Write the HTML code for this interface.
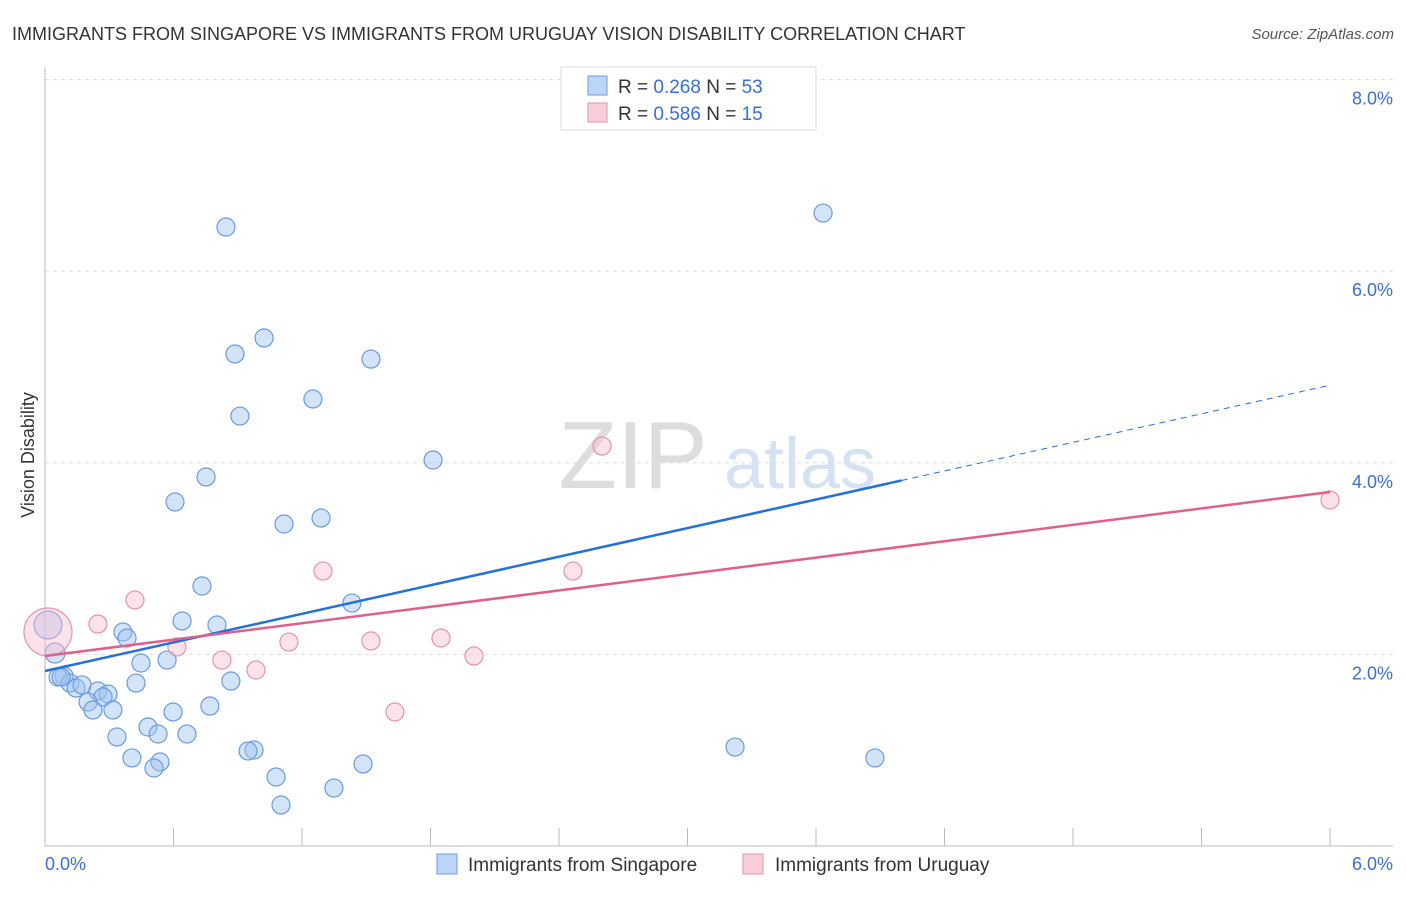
<!DOCTYPE html>
<html><head><meta charset="utf-8"><style>
body{margin:0;background:#fff;font-family:"Liberation Sans",sans-serif}
svg text{font-family:"Liberation Sans",sans-serif}
</style></head><body>
<svg id="c" width="1406" height="892" viewBox="0 0 1406 892">
<text x="12" y="40" font-size="18" fill="#333">IMMIGRANTS FROM SINGAPORE VS IMMIGRANTS FROM URUGUAY VISION DISABILITY CORRELATION CHART</text>
<text x="1394" y="39" font-size="15" fill="#555" font-style="italic" text-anchor="end">Source: ZipAtlas.com</text>
<text x="633" y="488" font-size="96" fill="#ddd" font-family="Liberation Serif" text-anchor="middle">ZIP</text>
<text x="800" y="488" font-size="72" fill="#d5e2f3" text-anchor="middle">atlas</text>
<g id="grid"></g><g id="axes"></g><g id="marks"></g>
<text transform="translate(34,455) rotate(-90)" font-size="18" fill="#333" text-anchor="middle">Vision Disability</text>
<text x="45" y="870" font-size="18" fill="#3b6fd4">0.0%</text>
<text x="1393" y="870" font-size="18" fill="#3b6fd4" text-anchor="end">6.0%</text>
<g>
<rect x="561" y="67" width="255" height="63" fill="#fff" stroke="#ddd"/>
<rect x="588" y="76" width="19" height="19" fill="#bcd4f5" stroke="#6a9be0"/>
<text x="618" y="93" font-size="19" fill="#333">R = <tspan fill="#3b6fd4">0.268</tspan>   N = <tspan fill="#3b6fd4">53</tspan></text>
<rect x="588" y="103" width="19" height="19" fill="#f9cdd9" stroke="#e693ab"/>
<text x="618" y="120" font-size="19" fill="#333">R = <tspan fill="#3b6fd4">0.586</tspan>   N = <tspan fill="#3b6fd4"> 15</tspan></text>
</g>
<g>
<rect x="437" y="854" width="20" height="20" fill="#bcd4f5" stroke="#6a9be0"/>
<text x="468" y="871" font-size="19" fill="#333">Immigrants from Singapore</text>
<rect x="743" y="854" width="20" height="20" fill="#f9cdd9" stroke="#e693ab"/>
<text x="775" y="871" font-size="19" fill="#333">Immigrants from Uruguay</text>
</g>
</svg>
<script>
const yTicks=[2,4,6,8];
const yTickLabels=["2.0%","4.0%","6.0%","8.0%"];
const xTicks=[0,0.6,1.2,1.8,2.4,3.0,3.6,4.2,4.8,5.4,6.0];
const blueX=[0.845,3.633,1.023,0.887,1.522,1.251,0.910,1.812,0.752,0.607,1.289,1.116,0.733,1.433,0.640,0.803,0.364,0.383,0.047,0.014,0.570,0.448,0.089,0.061,0.117,0.145,0.173,0.425,0.868,0.247,0.294,0.271,0.201,0.224,0.317,0.770,0.598,0.481,0.528,0.663,0.336,0.976,0.948,3.222,0.406,0.537,0.509,1.485,3.875,1.079,1.349,1.102,0.075];
const blueY=[6.461,6.607,5.303,5.136,5.083,4.666,4.488,4.029,3.852,3.591,3.424,3.361,2.714,2.536,2.349,2.307,2.234,2.171,2.015,2.307,1.941,1.910,1.774,1.764,1.701,1.649,1.681,1.701,1.722,1.618,1.587,1.555,1.503,1.420,1.420,1.461,1.399,1.242,1.169,1.169,1.138,1.002,0.992,1.033,0.919,0.877,0.814,0.856,0.919,0.720,0.605,0.428,1.764];
const blueR=[9,9,9,9,9,9,9,9,9,9,9,9,9,9,9,9,9,9,10,14,9,9,9,9,9,9,9,9,9,9,9,9,9,9,9,9,9,9,9,9,9,9,9,9,9,9,9,9,9,9,9,9,9];
const pinkX=[2.601,6.0,1.298,2.465,0.420,0.247,0.014,0.616,1.139,1.522,1.849,2.003,0.826,0.985,1.634];
const pinkY=[4.175,3.612,2.870,2.870,2.568,2.317,2.234,2.077,2.129,2.140,2.171,1.983,1.941,1.837,1.399];
const pinkR=[9,9,9,9,9,9,24,9,9,9,9,9,9,9,9];
const blueTrend=[1.827,4.81];
const pinkTrend=[1.983,3.695];
const X=v=>45+v/6*1285, Y=v=>846-v*95.8;
const NS="http://www.w3.org/2000/svg";
function mk(p,t,a){const e=document.createElementNS(NS,t);for(const k in a)e.setAttribute(k,a[k]);p.appendChild(e);return e;}
const grid=document.getElementById('grid'),axes=document.getElementById('axes'),marks=document.getElementById('marks');
yTicks.forEach((t,i)=>{
 const l=mk(grid,'line',{x1:45,x2:1393,y1:Y(t),y2:Y(t),stroke:'#ddd','stroke-dasharray':'4,4'});
 
 
 const tx=mk(grid,'text',{x:1393,y:Y(t)+25,'font-size':18,fill:'#3b6fd4','text-anchor':'end'});
 tx.textContent=yTickLabels[i];
 
 
});
mk(axes,'line',{x1:45,x2:45,y1:67,y2:846,stroke:'#bbb'});
mk(axes,'line',{x1:45,x2:1393,y1:846,y2:846,stroke:'#bbb'});
xTicks.forEach(t=>{
 const l=mk(axes,'line',{x1:X(t),x2:X(t),y1:828,y2:846,stroke:'#bbb'});
 
 
});
blueX.forEach((v,i)=>{
 const c=mk(marks,'circle',{cx:X(v),cy:Y(blueY[i]),r:blueR[i],fill:'rgba(160,196,240,0.45)',stroke:'#6a9be0','stroke-width':1.2});
 
 
});
pinkX.forEach((v,i)=>{
 const c=mk(marks,'circle',{cx:X(v),cy:Y(pinkY[i]),r:pinkR[i],fill:'rgba(248,190,208,0.45)',stroke:'#e693ab','stroke-width':1.2});
 
 
});
const bx=4.0, by=blueTrend[0]+(blueTrend[1]-blueTrend[0])*bx/6;
const b1=mk(marks,'line',{x1:X(0),y1:Y(blueTrend[0]),x2:X(bx),y2:Y(by),stroke:'#2370d8','stroke-width':2.5});


const b2=mk(marks,'line',{x1:X(bx),y1:Y(by),x2:X(6),y2:Y(blueTrend[1]),stroke:'#2370d8','stroke-width':1,'stroke-dasharray':'6,5'});


const p1=mk(marks,'line',{x1:X(0),y1:Y(pinkTrend[0]),x2:X(6),y2:Y(pinkTrend[1]),stroke:'#e0608d','stroke-width':2.5});


</script>
</body></html>
